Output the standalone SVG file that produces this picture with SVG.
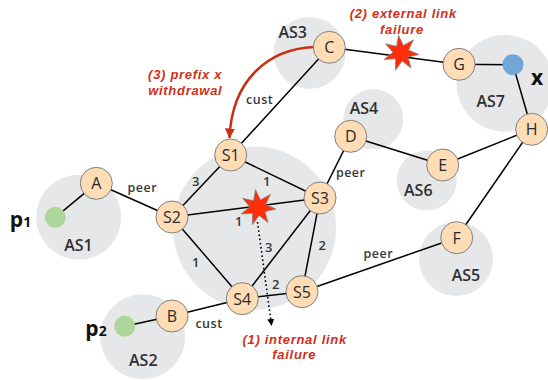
<svg xmlns="http://www.w3.org/2000/svg" width="548" height="380" viewBox="0 0 548 380">
<style>
text{font-family:"Open Sans","Liberation Sans",sans-serif;text-anchor:middle}
.as{fill:#e6e7e9}
.l{stroke:#000;stroke-width:1.5;fill:none}
.n circle{fill:#fedcb6;stroke:#808080;stroke-width:1}
.n text{font-size:16px;fill:#2b2b2b}
.t{font-size:16px;font-weight:600;fill:#2f2f33}
.e{font-size:12.500px;font-weight:600;fill:#37373b;letter-spacing:.5px}
.d{font-size:13px;font-weight:600;fill:#37373b}
text.r{font-family:"Liberation Sans",sans-serif;font-size:13px;font-weight:700;font-style:italic;fill:#d0301a;letter-spacing:.7px}
.p{font-size:21px;font-weight:700;fill:#111}
.star{fill:#ff2d0a;stroke:#808080;stroke-width:.8}
</style>
<defs>
<marker id="rh" markerUnits="userSpaceOnUse" markerWidth="11" markerHeight="11" refX="9.500" refY="5" orient="auto"><path d="M0 0L10 5L0 10z" fill="#c9300f"/></marker>
<marker id="bh" markerUnits="userSpaceOnUse" markerWidth="8" markerHeight="8" refX="6" refY="3.500" orient="auto"><path d="M0 0L7 3.500L0 7z" fill="#000"/></marker>
<polygon id="burst" class="star" points="-2.500,-17.800 2.400,-7.600 12.400,-13.100 7.500,-2.900 17.900,1.600 6.900,4.100 10,15 1.100,7.900 -5.500,17.100 -5.500,5.800 -16.800,6.400 -8,-.7 -15.500,-9.200 -4.400,-6.700"/>
</defs>
<g id="regions">
<circle class="as" cx="78.700" cy="217.300" r="42.500"/>
<circle class="as" cx="142.700" cy="336.700" r="42.500"/>
<circle class="as" cx="254.500" cy="228" r="81.500"/>
<circle class="as" cx="309.500" cy="53" r="36"/>
<circle class="as" cx="373.300" cy="119.300" r="30"/>
<circle class="as" cx="426.700" cy="180.500" r="30"/>
<circle class="as" cx="505" cy="83.300" r="48.500"/>
<circle class="as" cx="456" cy="259" r="37"/>
</g>
<g id="connectors">
<path class="l" d="M55.300 217.300L96.300 183.300M96.300 183.300L172 217M172 217L230.700 155M172 217L320 198M172 217L242.300 298.700M230.700 155L320 198M230.700 155L329.300 47.300M320 198L242.300 298.700M320 198L302 291.700M320 198L350.700 136.300M242.300 298.700L302 291.700M124.700 326.300L172 316M172 316L242.300 298.700M302 291.700L456.700 237.700M456.700 237.700L531.700 129.300M350.700 136.300L442.700 165M442.700 165L531.700 129.300M329.300 47.300L459 64.300M459 64.300L513 64.700M513 64.700L531.700 129.300"/>
<path d="M314 47C268 49 232 80 229.500 138" fill="none" stroke="#c9300f" stroke-width="2.500" marker-end="url(#rh)"/>
<path d="M257.500 222L271.500 325" fill="none" stroke="#000" stroke-width="1.600" stroke-dasharray="1.600 2.600" marker-end="url(#bh)"/>
</g>
<circle id="p1-dot" cx="55.300" cy="217.300" r="10.500" fill="#aed69a"/>
<circle id="p2-dot" cx="124.700" cy="326.300" r="10.500" fill="#aed69a"/>
<circle id="x-dot" cx="513" cy="64.700" r="10.500" fill="#70a7d8"/>
<use id="star1" href="#burst" x="258" y="207.500"/>
<use id="star2" href="#burst" x="401" y="53"/>
<g id="A" class="n"><circle cx="96.300" cy="183.300" r="16"/><text x="96.300" y="189">A</text></g>
<g id="B" class="n"><circle cx="172" cy="316" r="16"/><text x="172" y="322">B</text></g>
<g id="C" class="n"><circle cx="329.300" cy="47.300" r="16"/><text x="329.300" y="53">C</text></g>
<g id="D" class="n"><circle cx="350.700" cy="136.300" r="16"/><text x="350.700" y="142">D</text></g>
<g id="E" class="n"><circle cx="442.700" cy="165" r="16"/><text x="442.700" y="171">E</text></g>
<g id="F" class="n"><circle cx="456.700" cy="237.700" r="16"/><text x="456.700" y="243.500">F</text></g>
<g id="G" class="n"><circle cx="459" cy="64.300" r="16"/><text x="459" y="70">G</text></g>
<g id="H" class="n"><circle cx="531.700" cy="129.300" r="16"/><text x="531.700" y="135">H</text></g>
<g id="S1" class="n"><circle cx="230.700" cy="155" r="16"/><text x="230.700" y="161">S1</text></g>
<g id="S2" class="n"><circle cx="172" cy="217" r="16"/><text x="172" y="223">S2</text></g>
<g id="S3" class="n"><circle cx="320" cy="198" r="16"/><text x="320" y="204">S3</text></g>
<g id="S4" class="n"><circle cx="242.300" cy="298.700" r="16"/><text x="242.300" y="304.500">S4</text></g>
<g id="S5" class="n"><circle cx="302" cy="291.700" r="16"/><text x="302" y="297.500">S5</text></g>
<g id="labels">
<text class="t" x="78.500" y="251">AS1</text>
<text class="t" x="143.300" y="366">AS2</text>
<text class="t" x="292.700" y="38.300">AS3</text>
<text class="t" x="364" y="114.300">AS4</text>
<text class="t" x="418.300" y="195.700">AS6</text>
<text class="t" x="490.700" y="107.300">AS7</text>
<text class="t" x="466" y="280.700">AS5</text>
<text class="p" x="20.500" y="227">p<tspan font-size="14">1</tspan></text>
<text class="p" x="96" y="336">p<tspan font-size="14">2</tspan></text>
<text class="p" x="537" y="85">x</text>
<text class="e" x="142.300" y="192.300">peer</text>
<text class="e" x="209" y="328.300">cust</text>
<text class="e" x="259.700" y="104.300">cust</text>
<text class="e" x="350.700" y="177">peer</text>
<text class="e" x="378.300" y="258.300">peer</text>
<text class="d" x="195.700" y="185.500">3</text>
<text class="d" x="266.700" y="185.500">1</text>
<text class="d" x="238.700" y="225.500">1</text>
<text class="d" x="195.700" y="267">1</text>
<text class="d" x="268.700" y="251.500">3</text>
<text class="d" x="322.300" y="250">2</text>
<text class="d" x="275.700" y="288.500">2</text>
<text class="r" x="403.300" y="18.300">(2) external link</text>
<text class="r" x="402" y="34.300">failure</text>
<text class="r" x="185.200" y="79.300">(3) prefix x</text>
<text class="r" x="185.300" y="95">withdrawal</text>
<text class="r" x="294.700" y="344.300">(1) internal link</text>
<text class="r" x="294.300" y="359.300">failure</text>
</g>
</svg>
